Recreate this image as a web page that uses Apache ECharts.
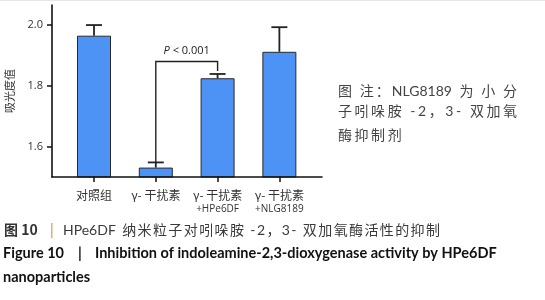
<!DOCTYPE html>
<html>
<head>
<meta charset="utf-8">
<script src="https://cdn.jsdelivr.net/npm/echarts@6/dist/echarts.min.js"></script>
<style>html,body{margin:0;padding:0;background:#fff}#c{width:545px;height:300px}</style>
</head>
<body>
<div id="c"></div>
<script>
// ---- data ----
var categories = ['对照组', 'γ- 干扰素', 'γ- 干扰素\n+HPe6DF', 'γ- 干扰素\n+NLG8189'];
var means = [1.965, 1.531, 1.825, 1.912];
var errorTops = [2.000, 1.548, 1.839, 1.993];
var yTicks = [1.6, 1.8, 2.0];
var xIdx = [0, 1, 2, 3];
var bracketFrom = 1, bracketTo = 2;
var bracketTop = 1.88, bracketLeftEnd = 1.548, bracketRightEnd = 1.849;
var bracketLabel = 'P < 0.001';
var yAxisName = '吸光度值';
var noteLines = ['图 注：NLG8189 为 小 分', '子吲哚胺 -2，3- 双加氧', '酶抑制剂'];
var captionCnHead = '图 10';
var captionCn = 'HPe6DF 纳米粒子对吲哚胺 -2，3- 双加氧酶活性的抑制';
var captionEnHead = 'Figure 10';
var captionEn1 = 'Inhibition of indoleamine-2,3-dioxygenase activity by HPe6DF';
var captionEn2 = 'nanoparticles';

var textFont = '"Open Sans", "Noto Sans CJK SC", sans-serif';
var cnFont = '"Noto Sans CJK SC", sans-serif';
var latFont = 'Lato, sans-serif';
var enFont = 'Lato, "Noto Sans CJK SC", sans-serif';

var mctx = document.createElement('canvas').getContext('2d');
function measure(s, size, weight, family) {
  mctx.font = weight + ' ' + size + 'px ' + family;
  return mctx.measureText(s).width;
}
// mixed CJK/Latin line: CJK chars and Latin runs as tokens, justified to width (or fixed spacing)
function layoutMixed(str, x, yMid, size, fill, width, spacing) {
  var toks = str.match(/[A-Za-z0-9.]+|\s+|[\s\S]/g);
  var items = toks.map(function (t) {
    var lat = /^[A-Za-z0-9.\s\-]+$/.test(t);
    var fam = lat ? latFont : cnFont;
    return {t: t, fam: fam, w: measure(t, size, 'normal', fam)};
  });
  var sum = items.reduce(function (a, b) { return a + b.w; }, 0);
  var sp = (width != null) ? (width - sum) / (items.length - 1) : (spacing || 0);
  var out = [], cx = x;
  items.forEach(function (it) {
    if (!/^\s+$/.test(it.t)) {
      out.push({type: 'text', x: cx, y: yMid, silent: true,
        style: {text: it.t, fontSize: size, fontFamily: it.fam, fill: fill, align: 'left', verticalAlign: 'middle'}});
    }
    cx += it.w + sp;
  });
  out.spacing = sp;
  return out;
}

var chart = echarts.init(document.getElementById('c'), null, {renderer: 'canvas'});
var barData = xIdx.map(function (i) { return [i, means[i]]; });
var errData = xIdx.map(function (i) { return [i, means[i], errorTops[i]]; });

var note1 = layoutMixed(noteLines[0], 338, 91, 14, '#444', 179);
var note2 = layoutMixed(noteLines[1], 338, 111, 14, '#444', 179);
var note3 = layoutMixed(noteLines[2], 338, 135, 14, '#444', null, note2.spacing);
var capCn = layoutMixed(captionCn, 63, 230, 14, '#3a3a3a', 377);
var enSize = 14 * 402 / measure(captionEn1, 14, 'bold', enFont);

var graphics = [
  {type: 'line', shape: {x1: 0, y1: 0.5, x2: 545, y2: 0.5}, style: {stroke: '#e6e6e6', lineWidth: 1}},
  {type: 'text', x: 4, y: 230, style: {text: captionCnHead, fontSize: 14, fontWeight: 'bold', fontFamily: cnFont, fill: '#333', verticalAlign: 'middle'}},
  {type: 'text', x: 48, y: 230, style: {text: '|', fontSize: 14, fontFamily: textFont, fill: '#c8893a', verticalAlign: 'middle'}},
  {type: 'text', x: 3, y: 253, style: {text: captionEnHead, fontSize: enSize, fontWeight: 'bold', fontFamily: enFont, fill: '#111', verticalAlign: 'middle'}},
  {type: 'text', x: 78, y: 253, style: {text: '|', fontSize: enSize, fontWeight: 'bold', fontFamily: enFont, fill: '#111', verticalAlign: 'middle'}},
  {type: 'text', x: 95, y: 253, style: {text: captionEn1, fontSize: enSize, fontWeight: 'bold', fontFamily: enFont, fill: '#111', verticalAlign: 'middle'}},
  {type: 'text', x: 3, y: 277, style: {text: captionEn2, fontSize: enSize, fontWeight: 'bold', fontFamily: enFont, fill: '#111', verticalAlign: 'middle'}}
].concat(note1, note2, note3, capCn);

var option = {
  animation: false,
  grid: {left: 52, right: 223, top: 5, bottom: 123, containLabel: false},
  xAxis: {
    type: 'value', min: -0.68, max: 3.69, z: 10,
    splitLine: {show: false},
    axisLine: {show: true, onZero: false, lineStyle: {color: '#111', width: 1.6}},
    axisTick: {show: true, customValues: xIdx, length: 5, lineStyle: {color: '#111', width: 1.5}},
    axisLabel: {
      customValues: xIdx, margin: 11, color: '#333',
      formatter: function (v) {
        var parts = categories[Math.round(v)].split('\n');
        return parts.length > 1 ? '{a|' + parts[0] + '}\n{b|' + parts[1] + '}' : '{a|' + parts[0] + '}';
      },
      rich: {
        a: {fontSize: 12, lineHeight: 15, fontFamily: cnFont, color: '#333'},
        b: {fontSize: 10, lineHeight: 13, fontFamily: textFont, color: '#333'}
      }
    }
  },
  yAxis: {
    type: 'value', min: 1.5, max: 2.066, z: 10,
    name: yAxisName, nameLocation: 'middle', nameGap: 37, nameRotate: 90,
    nameTextStyle: {fontSize: 11, fontFamily: cnFont, color: '#333'},
    splitLine: {show: false},
    axisLine: {show: true, onZero: false, lineStyle: {color: '#111', width: 1.6}},
    axisTick: {show: true, customValues: yTicks, length: 5, lineStyle: {color: '#111', width: 1.5}},
    axisLabel: {customValues: yTicks, margin: 9, fontSize: 11, fontFamily: textFont, color: '#333',
      formatter: function (v) { return v.toFixed(1); }}
  },
  series: [
    {
      type: 'bar', data: barData, barWidth: 34, z: 2,
      itemStyle: {color: '#4c93f5', borderColor: '#2a2a2a', borderWidth: 1}
    },
    {
      type: 'custom', z: 3,
      data: errData,
      renderItem: function (params, api) {
        var p0 = api.coord([api.value(0), api.value(1)]);
        var p1 = api.coord([api.value(0), api.value(2)]);
        var st = {stroke: '#222', lineWidth: 1.8};
        return {type: 'group', children: [
          {type: 'line', shape: {x1: p0[0], y1: p0[1], x2: p1[0], y2: p1[1]}, style: st},
          {type: 'line', shape: {x1: p1[0] - 8, y1: p1[1], x2: p1[0] + 8, y2: p1[1]}, style: st}
        ]};
      }
    },
    {
      type: 'custom', z: 3,
      data: [[bracketFrom, bracketTo, bracketTop, bracketLeftEnd, bracketRightEnd]],
      renderItem: function (params, api) {
        var a = api.coord([api.value(0), api.value(3)]);
        var b = api.coord([api.value(0), api.value(2)]);
        var c = api.coord([api.value(1), api.value(2)]);
        var d = api.coord([api.value(1), api.value(4)]);
        var parts = bracketLabel.split(' ');
        return {type: 'group', children: [
          {type: 'polyline', shape: {points: [a, b, c, d]}, style: {stroke: '#222', lineWidth: 1.4, fill: null}},
          {type: 'text', x: (b[0] + c[0]) / 2, y: b[1] - 11,
            style: {text: '{i|' + parts[0] + '} ' + parts.slice(1).join(' '), align: 'center', verticalAlign: 'middle',
              fontSize: 11, fontFamily: textFont, fill: '#222',
              rich: {i: {fontStyle: 'italic', fontSize: 11, fontFamily: textFont, fill: '#222'}}}}
        ]};
      }
    }
  ],
  graphic: graphics
};
chart.setOption(option);
</script>
</body>
</html>
